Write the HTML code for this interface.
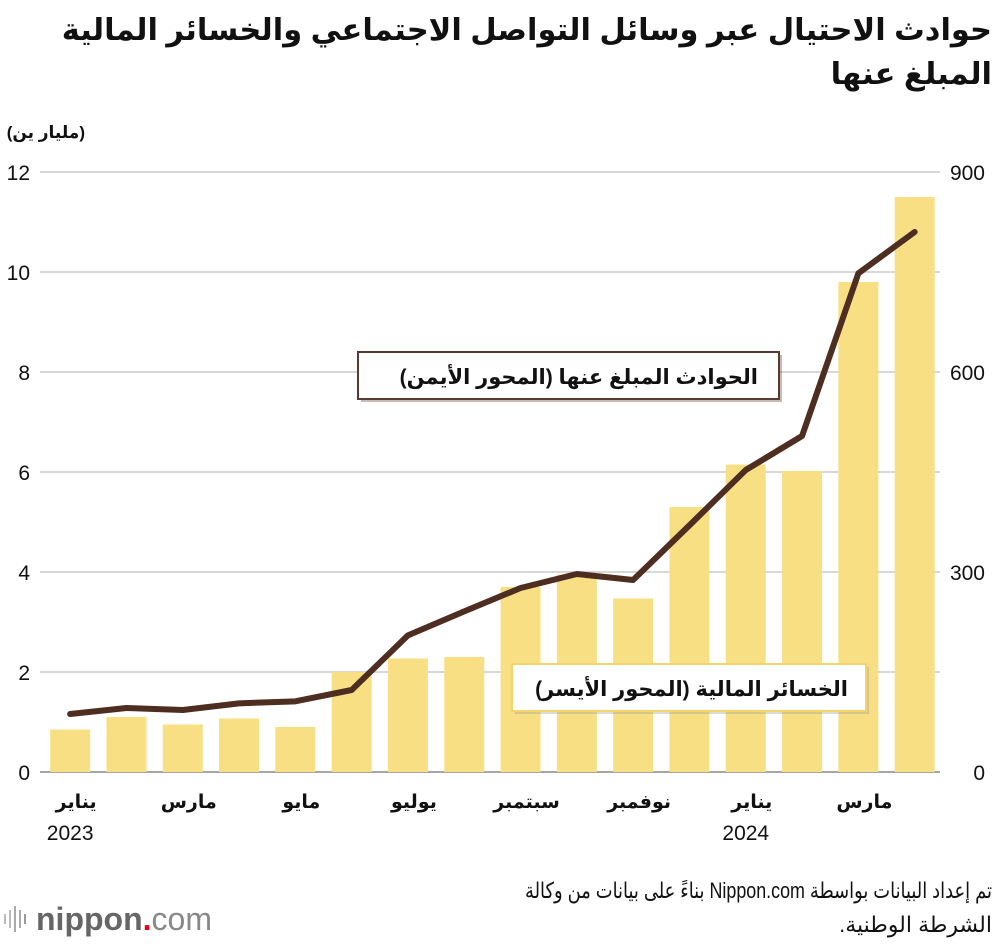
<!DOCTYPE html>
<html><head><meta charset="utf-8">
<style>
body{margin:0;background:#fff;width:1000px;height:946px;overflow:hidden;font-family:"Liberation Sans","DejaVu Sans",sans-serif}
svg text{font-family:"Liberation Sans","DejaVu Sans",sans-serif}
</style></head>
<body>
<svg id="c" width="1000" height="946">
<text x="992" y="40" text-anchor="start" font-size="30.5" font-weight="bold" fill="#111" direction="rtl">حوادث الاحتيال عبر وسائل التواصل الاجتماعي والخسائر المالية</text>
<text x="992" y="84" text-anchor="start" font-size="30.5" font-weight="bold" fill="#111" direction="rtl">المبلغ عنها</text>
<text x="85" y="138" text-anchor="start" font-size="17" font-weight="bold" fill="#111" direction="rtl">(مليار ين)</text>
<g id="grid"></g><g id="bars"></g><g id="line"></g><g id="ticks"></g>
<g>
<rect x="361" y="355" width="421" height="47" fill="#5a3a2e" opacity="0.35"/>
<rect x="358" y="352" width="421" height="47" fill="#fff" stroke="#5a3a2e" stroke-width="2"/>
<text x="758" y="384" text-anchor="start" font-size="21" font-weight="bold" fill="#111" direction="rtl">الحوادث المبلغ عنها (المحور الأيمن)</text>
</g>
<g>
<rect x="515" y="667" width="354" height="47" fill="#999" opacity="0.35"/>
<rect x="512" y="664" width="354" height="47" fill="#fff" stroke="#f3d56a" stroke-width="2"/>
<text x="848" y="696" text-anchor="start" font-size="21" font-weight="bold" fill="#111" direction="rtl">الخسائر المالية (المحور الأيسر)</text>
</g>
<text x="992" y="898" text-anchor="start" font-size="22" fill="#111" direction="rtl" textLength="467" lengthAdjust="spacingAndGlyphs">تم إعداد البيانات بواسطة Nippon.com بناءً على بيانات من وكالة</text>
<text x="992" y="932" text-anchor="start" font-size="22" fill="#111" direction="rtl">الشرطة الوطنية.</text>
<g>
<rect x="4" y="914" width="2" height="10" fill="#bbb"/><rect x="9" y="910" width="2" height="18" fill="#bbb"/><rect x="14" y="906" width="2" height="26" fill="#aaa"/><rect x="19" y="910" width="2" height="18" fill="#aaa"/><rect x="24" y="914" width="2" height="10" fill="#999"/>
<text x="36" y="930" font-size="32" fill="#666" font-weight="bold">nippon<tspan fill="#e60012">.</tspan><tspan font-weight="normal" fill="#888">com</tspan></text>
</g>
</svg>
<script>
const months=["يناير","","مارس","","مايو","","يوليو","","سبتمبر","","نوفمبر","","يناير","","مارس",""];
const years=["2023","","","","","","","","","","","","2024","","",""];
const losses=[0.85,1.1,0.95,1.07,0.9,2.0,2.27,2.3,3.7,3.95,3.47,5.3,6.15,6.02,9.8,11.5];
const incidents=[87,96,93,103,106,123,205,241,276,297,288,370,453,504,748,810];
const leftTicks=[0,2,4,6,8,10,12];
const rightTicks=[0,300,600,900];
const NS="http://www.w3.org/2000/svg";
const x0=42,step=56.3,bw=40;
const xc=i=>x0+step*(i+0.5);
const yL=v=>772-v*50;
const yR=v=>772-v*600/900;
function mk(p,t,a){const e=document.createElementNS(NS,t);for(const k in a)e.setAttribute(k,a[k]);document.getElementById(p).appendChild(e);return e;}
leftTicks.forEach(v=>{
 const l=mk("grid","line",{x1:40,x2:940,y1:yL(v),y2:yL(v),stroke:v===0?"#888":"#ccc","stroke-width":1.5});
 
 
 const t=mk("ticks","text",{x:30,y:yL(v)+8,"text-anchor":"end","font-size":21,fill:"#111"});t.textContent=v;
 
 
});
rightTicks.forEach(v=>{
 const t=mk("ticks","text",{x:985,y:yR(v)+8,"text-anchor":"end","font-size":21,fill:"#111"});t.textContent=v;
 
 
});
losses.forEach((v,i)=>{
 const r=mk("bars","rect",{x:xc(i)-bw/2,y:yL(v),width:bw,height:772-yL(v),fill:"#f9df84"});
 
 
 if(months[i]){const t=mk("ticks","text",{x:xc(i)+6,y:808,"text-anchor":"middle","font-size":19,"font-weight":"bold",fill:"#111",direction:"rtl"});t.textContent=months[i];
 
 }
 if(years[i]){const t=mk("ticks","text",{x:xc(i),y:840,"text-anchor":"middle","font-size":21,fill:"#111"});t.textContent=years[i];
 
 }
});
const pl=mk("line","polyline",{points:incidents.map((v,i)=>xc(i)+","+yR(v)).join(" "),fill:"none",stroke:"#4f2e22","stroke-width":6,"stroke-linejoin":"round","stroke-linecap":"round"});


</script>
</body></html>
